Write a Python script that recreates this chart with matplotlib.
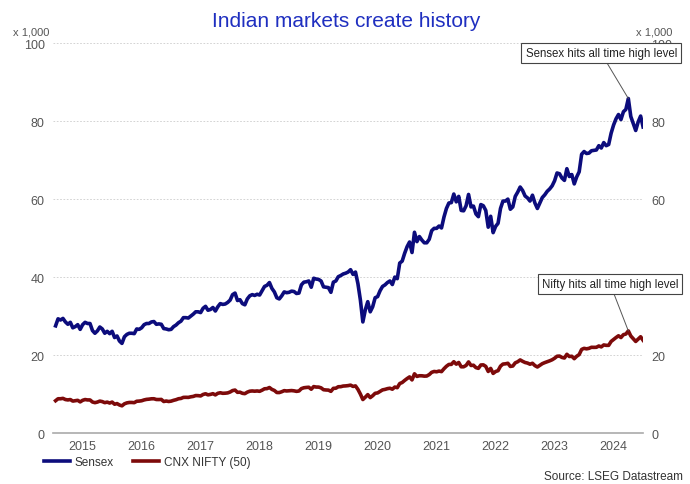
import numpy as np
import matplotlib
matplotlib.use("Agg")
import matplotlib.pyplot as plt

plt.rcParams['font.family'] = ['Liberation Sans', 'DejaVu Sans']

# values in thousands, two readings per month (mid, end), Jan 2015 - Dec 2024
sensex = [
    # 2015
    27.5, 29.3, 29.0, 29.4, 28.5, 27.9, 28.4, 27.0, 27.3, 27.8, 26.6, 27.8,
    28.4, 28.1, 28.1, 26.3, 25.6, 26.2, 27.2, 26.7, 25.6, 26.1, 25.5, 26.1,
    # 2016
    24.5, 24.9, 23.6, 23.0, 24.7, 25.3, 25.6, 25.6, 25.5, 26.7, 26.6, 27.0,
    27.8, 28.1, 28.1, 28.5, 28.6, 27.9, 28.0, 27.9, 26.8, 26.7, 26.5, 26.6,
    # 2017
    27.3, 27.7, 28.3, 28.7, 29.6, 29.6, 29.5, 30.0, 30.5, 31.1, 31.1, 30.9,
    32.0, 32.5, 31.5, 31.7, 32.2, 31.3, 32.4, 33.2, 33.0, 33.1, 33.5, 34.1,
    # 2018
    35.5, 35.9, 34.0, 34.2, 33.2, 32.9, 34.4, 35.2, 35.5, 35.3, 35.6, 35.4,
    36.5, 37.6, 37.9, 38.6, 37.1, 36.2, 34.7, 34.4, 35.2, 36.2, 36.0, 36.1,
    # 2019
    36.4, 36.3, 35.8, 35.9, 38.0, 38.7, 38.8, 39.0, 37.4, 39.7, 39.5, 39.4,
    39.0, 37.5, 37.4, 37.3, 36.1, 38.7, 39.0, 40.1, 40.4, 40.8, 41.0, 41.3,
    # 2020
    41.9, 40.7, 41.3, 38.3, 34.1, 28.5, 31.6, 33.7, 31.1, 32.4, 34.7, 35.0,
    36.5, 37.6, 38.0, 38.6, 39.0, 38.1, 40.0, 39.6, 43.6, 44.1, 46.1, 47.8,
    # 2021
    49.0, 46.3, 51.5, 49.1, 50.4, 49.5, 48.8, 48.8, 49.7, 51.9, 52.5, 52.5,
    53.1, 52.6, 55.4, 57.6, 59.0, 59.1, 61.3, 59.3, 60.7, 57.1, 57.0, 58.3,
    # 2022
    61.2, 58.0, 58.2, 56.2, 55.5, 58.6, 58.3, 57.1, 52.8, 55.6, 51.4, 53.0,
    53.8, 57.6, 59.5, 59.5, 60.0, 57.4, 58.0, 60.7, 61.8, 63.1, 62.2, 60.8,
    # 2023
    60.3, 59.5, 61.0, 59.0, 57.6, 59.0, 60.4, 61.1, 62.0, 62.6, 63.4, 64.7,
    66.7, 66.5, 65.4, 64.8, 67.8, 65.8, 66.3, 63.9, 65.7, 67.0, 71.5, 72.2,
    # 2024
    71.7, 71.8, 72.4, 72.5, 72.6, 73.7, 73.1, 74.5, 73.7, 74.0, 76.9, 79.0,
    80.6, 81.7, 80.4, 82.4, 83.0, 85.8, 81.2, 79.4, 77.6, 79.8, 81.3, 78.5,
]

nifty = [
    # 2015
    8.3, 8.8, 8.8, 8.9, 8.6, 8.5, 8.6, 8.2, 8.3, 8.4, 8.0, 8.4,
    8.6, 8.5, 8.5, 7.97, 7.8, 7.95, 8.2, 8.07, 7.8, 7.94, 7.7, 7.95,
    # 2016
    7.4, 7.56, 7.2, 6.99, 7.5, 7.74, 7.85, 7.85, 7.8, 8.16, 8.2, 8.29,
    8.5, 8.64, 8.7, 8.79, 8.8, 8.61, 8.6, 8.63, 8.1, 8.22, 8.1, 8.19,
    # 2017
    8.4, 8.56, 8.8, 8.88, 9.15, 9.17, 9.15, 9.3, 9.4, 9.62, 9.6, 9.52,
    9.9, 10.08, 9.8, 9.92, 10.1, 9.79, 10.2, 10.34, 10.2, 10.23, 10.3, 10.53,
    # 2018
    10.9, 11.03, 10.45, 10.49, 10.2, 10.11, 10.5, 10.74, 10.8, 10.74, 10.8, 10.71,
    11.0, 11.36, 11.4, 11.68, 11.2, 10.93, 10.4, 10.39, 10.6, 10.88, 10.8, 10.86,
    # 2019
    10.9, 10.83, 10.7, 10.79, 11.4, 11.62, 11.7, 11.75, 11.25, 11.92, 11.8, 11.79,
    11.6, 11.12, 11.05, 11.02, 10.7, 11.47, 11.5, 11.88, 11.9, 12.06, 12.1, 12.17,
    # 2020
    12.3, 11.96, 12.1, 11.2, 10.0, 8.6, 9.2, 9.86, 9.1, 9.58, 10.2, 10.3,
    10.7, 11.07, 11.2, 11.39, 11.5, 11.25, 11.8, 11.64, 12.7, 12.97, 13.5, 13.98,
    # 2021
    14.4, 13.63, 15.2, 14.53, 14.7, 14.69, 14.6, 14.63, 15.0, 15.58, 15.8, 15.72,
    15.9, 15.76, 16.5, 17.13, 17.6, 17.62, 18.3, 17.67, 18.1, 17.0, 17.0, 17.35,
    # 2022
    18.25, 17.34, 17.4, 16.79, 16.6, 17.46, 17.5, 17.1, 15.8, 16.58, 15.3, 15.78,
    16.0, 17.16, 17.7, 17.76, 17.9, 17.09, 17.2, 18.01, 18.3, 18.76, 18.4, 18.1,
    # 2023
    17.95, 17.66, 17.9, 17.3, 16.95, 17.36, 17.8, 18.07, 18.3, 18.53, 18.8, 19.19,
    19.7, 19.75, 19.4, 19.25, 20.2, 19.64, 19.7, 19.08, 19.7, 20.13, 21.45, 21.73,
    # 2024
    21.6, 21.73, 22.0, 21.98, 22.0, 22.33, 22.1, 22.6, 22.5, 22.5, 23.5, 24.0,
    24.5, 24.95, 24.5, 25.24, 25.4, 26.2, 24.9, 24.2, 23.5, 24.1, 24.7, 23.8,
]

years = list(range(2015, 2025))
y_ticks = [0, 20, 40, 60, 80, 100]

navy = '#0c0c7c'
dark_red = '#7d0a0a'
grey_txt = '#555555'

x = 2015 + np.arange(1, len(sensex) + 1) / 24.0

fig = plt.figure(figsize=(6.9, 4.85), dpi=100)
ax = fig.add_axes([0.077, 0.105, 0.855, 0.804])

ax.plot(x, sensex, color=navy, lw=2.6, solid_joinstyle='round', label='Sensex', zorder=3)
ax.plot(x, nifty, color=dark_red, lw=2.6, solid_joinstyle='round', label='CNX NIFTY (50)', zorder=3)

ax.set_xlim(2015.0, 2025.0)
ax.set_ylim(0, 100)
ax.set_yticks(y_ticks)
ax.set_xticks([yr + 0.5 for yr in years])
ax.set_xticklabels([str(yr) for yr in years])
ax.tick_params(axis='both', length=0, colors=grey_txt, labelsize=9)
ax.tick_params(axis='x', pad=5)
ax.tick_params(axis='y', pad=6)

for v in y_ticks[1:]:
    ax.axhline(v, color='#cccccc', lw=0.6, ls=(0, (2, 2)), zorder=1)

for s in ['top', 'left', 'right']:
    ax.spines[s].set_visible(False)
ax.spines['bottom'].set_color('#aaaaaa')
ax.spines['bottom'].set_linewidth(1.2)

ax2 = ax.twinx()
ax2.set_ylim(0, 100)
ax2.set_yticks(y_ticks)
ax2.tick_params(axis='y', length=0, colors=grey_txt, labelsize=9, pad=6)
for s in ax2.spines.values():
    s.set_visible(False)

fig.text(0.045, 0.932, 'x 1,000', fontsize=8, color=grey_txt, ha='center', va='center')
fig.text(0.948, 0.932, 'x 1,000', fontsize=8, color=grey_txt, ha='center', va='center')

fig.text(0.502, 0.955, 'Indian markets create history', fontsize=15,
         color='#1f2fc0', ha='center', va='center')

box = dict(boxstyle='square,pad=0.35', fc='white', ec='#444444', lw=0.8)
i_s = int(np.argmax(sensex))
ax2.annotate('Sensex hits all time high level', xy=(x[i_s], sensex[i_s]),
             xytext=(2024.29, 97.4), fontsize=8.3, color='#222222', ha='center', va='center',
             bbox=box, arrowprops=dict(arrowstyle='-', color='#555555', lw=0.7,
                                       shrinkA=0, shrinkB=0), zorder=5)
i_n = int(np.argmax(nifty))
ax2.annotate('Nifty hits all time high level', xy=(x[i_n], nifty[i_n]),
             xytext=(2024.44, 38.3), fontsize=8.3, color='#222222', ha='center', va='center',
             bbox=box, arrowprops=dict(arrowstyle='-', color='#555555', lw=0.7,
                                       shrinkA=0, shrinkB=0), zorder=5)

leg = fig.legend(loc='center left', bbox_to_anchor=(0.064, 0.045), ncol=2, frameon=False,
                 fontsize=8.5, handlelength=2.2, handletextpad=0.4, columnspacing=1.6,
                 borderaxespad=0, borderpad=0)
for t in leg.get_texts():
    t.set_color('#333333')

fig.text(0.99, 0.004, 'Source: LSEG Datastream', fontsize=8.5, color='#333333',
         ha='right', va='bottom')

fig.savefig('out.png', dpi=100)
